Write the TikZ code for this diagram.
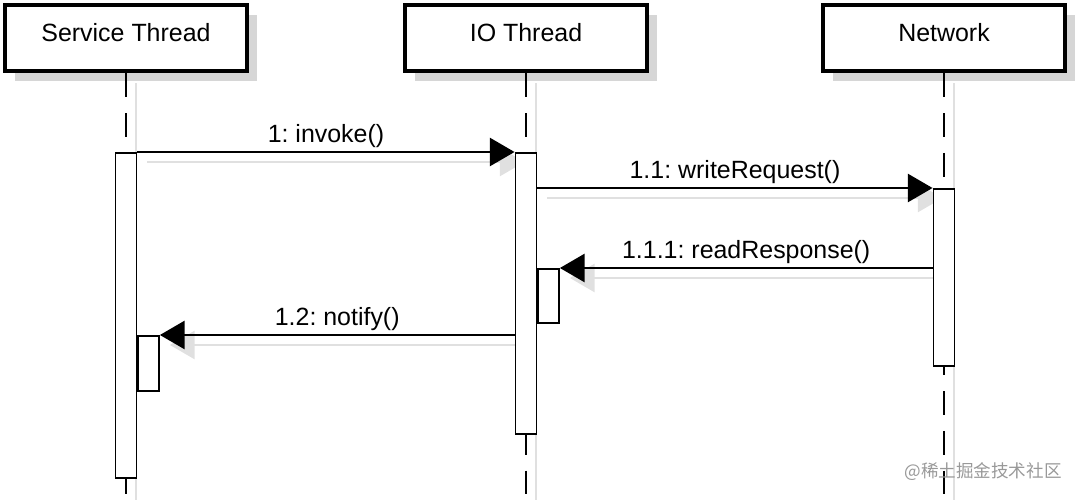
\documentclass[tikz,border=0pt]{standalone}
\usepackage{fontspec}
\setmainfont{Liberation Sans}
\newfontfamily\cjk{Noto Sans CJK SC}
\usetikzlibrary{arrows.meta,shadows}
\pgfdeclarelayer{bg}
\pgfsetlayers{bg,main}
\frenchspacing
\tikzset{
  obj/.style={draw,line width=2.8pt,fill=white,minimum width=4.84cm,minimum height=1.32cm,
    text depth=0.24cm,font=\fontsize{14.2}{17}\selectfont,
    drop shadow={shadow xshift=0.2cm,shadow yshift=-0.2cm,fill=black!16,opacity=1}},
  act/.style={draw,line width=1.1pt,fill=white,minimum width=0.42cm,inner sep=0pt,anchor=north},
  life/.style={line width=1.1pt,dash pattern=on 13.6pt off 9pt},
  lifeshadow/.style={line width=1.1pt,black!12},
  msg/.style={line width=1.1pt,-{Triangle[length=14pt,width=16pt]}},
  msgshadow/.style={msg,black!12,transform canvas={shift={(10,10)}}},
  lbl/.style={font=\fontsize{14.2}{17}\selectfont,inner sep=2pt}
}
\begin{document}
\begin{tikzpicture}[x=0.02cm,y=-0.02cm]
\useasboundingbox(0,0)rectangle(1080,500);
% objects
\node[obj] (st) at (126,38) {Service Thread};
\node[obj] (io) at (526,38) {IO Thread};
\node[obj] (nw) at (944,38) {Network};
\coordinate (stend) at (126,500);
\coordinate (ioend) at (526,500);
\coordinate (nwend) at (944,500);
% lifelines
\draw[lifeshadow] ([shift={(10,10)}]st.south)--([shift={(10,0)}]stend);
\draw[lifeshadow] ([shift={(10,10)}]io.south)--([shift={(10,0)}]ioend);
\draw[lifeshadow] ([shift={(10,10)}]nw.south)--([shift={(10,0)}]nwend);
\draw[life] (st.south)--(stend);
\draw[life] (io.south)--(ioend);
\draw[life] (nw.south)--(nwend);
% activations
\node[act,minimum height=6.5cm] (sa) at (126,152) {};
\node[act,minimum height=5.62cm] (ia) at (526,152) {};
\node[act,minimum height=3.54cm] (na) at (944,188) {};
\node[act,minimum height=1.08cm,anchor=north west] (ib) at (537,268) {};
\node[act,minimum height=1.1cm,anchor=north west] (sb) at (137,335) {};
% messages
\draw[msg] (sa.north east)--(ia.north west) node[lbl,midway,above]{1: invoke()};
\draw[msg] (ia.east|-na.north)--(na.north west) node[lbl,midway,above]{1.1: writeRequest()};
\draw[msg] (na.west|-ib.north)--(ib.north east) node[lbl,midway,above]{1.1.1: readResponse()};
\draw[msg] (ia.west|-sb.north)--(sb.north east) node[lbl,midway,above]{1.2: notify()};
\begin{pgfonlayer}{bg}
\draw[msgshadow] (sa.north east)--(ia.north west);
\draw[msgshadow] (ia.east|-na.north)--(na.north west);
\draw[msgshadow] (na.west|-ib.north)--(ib.north east);
\draw[msgshadow] (ia.west|-sb.north)--(sb.north east);
\end{pgfonlayer}
\node[text=black!40,font=\cjk\fontsize{10}{12}\selectfont,inner sep=0pt] (wm) at (983,472) {@稀土掘金技术社区};
\end{tikzpicture}
\end{document}
